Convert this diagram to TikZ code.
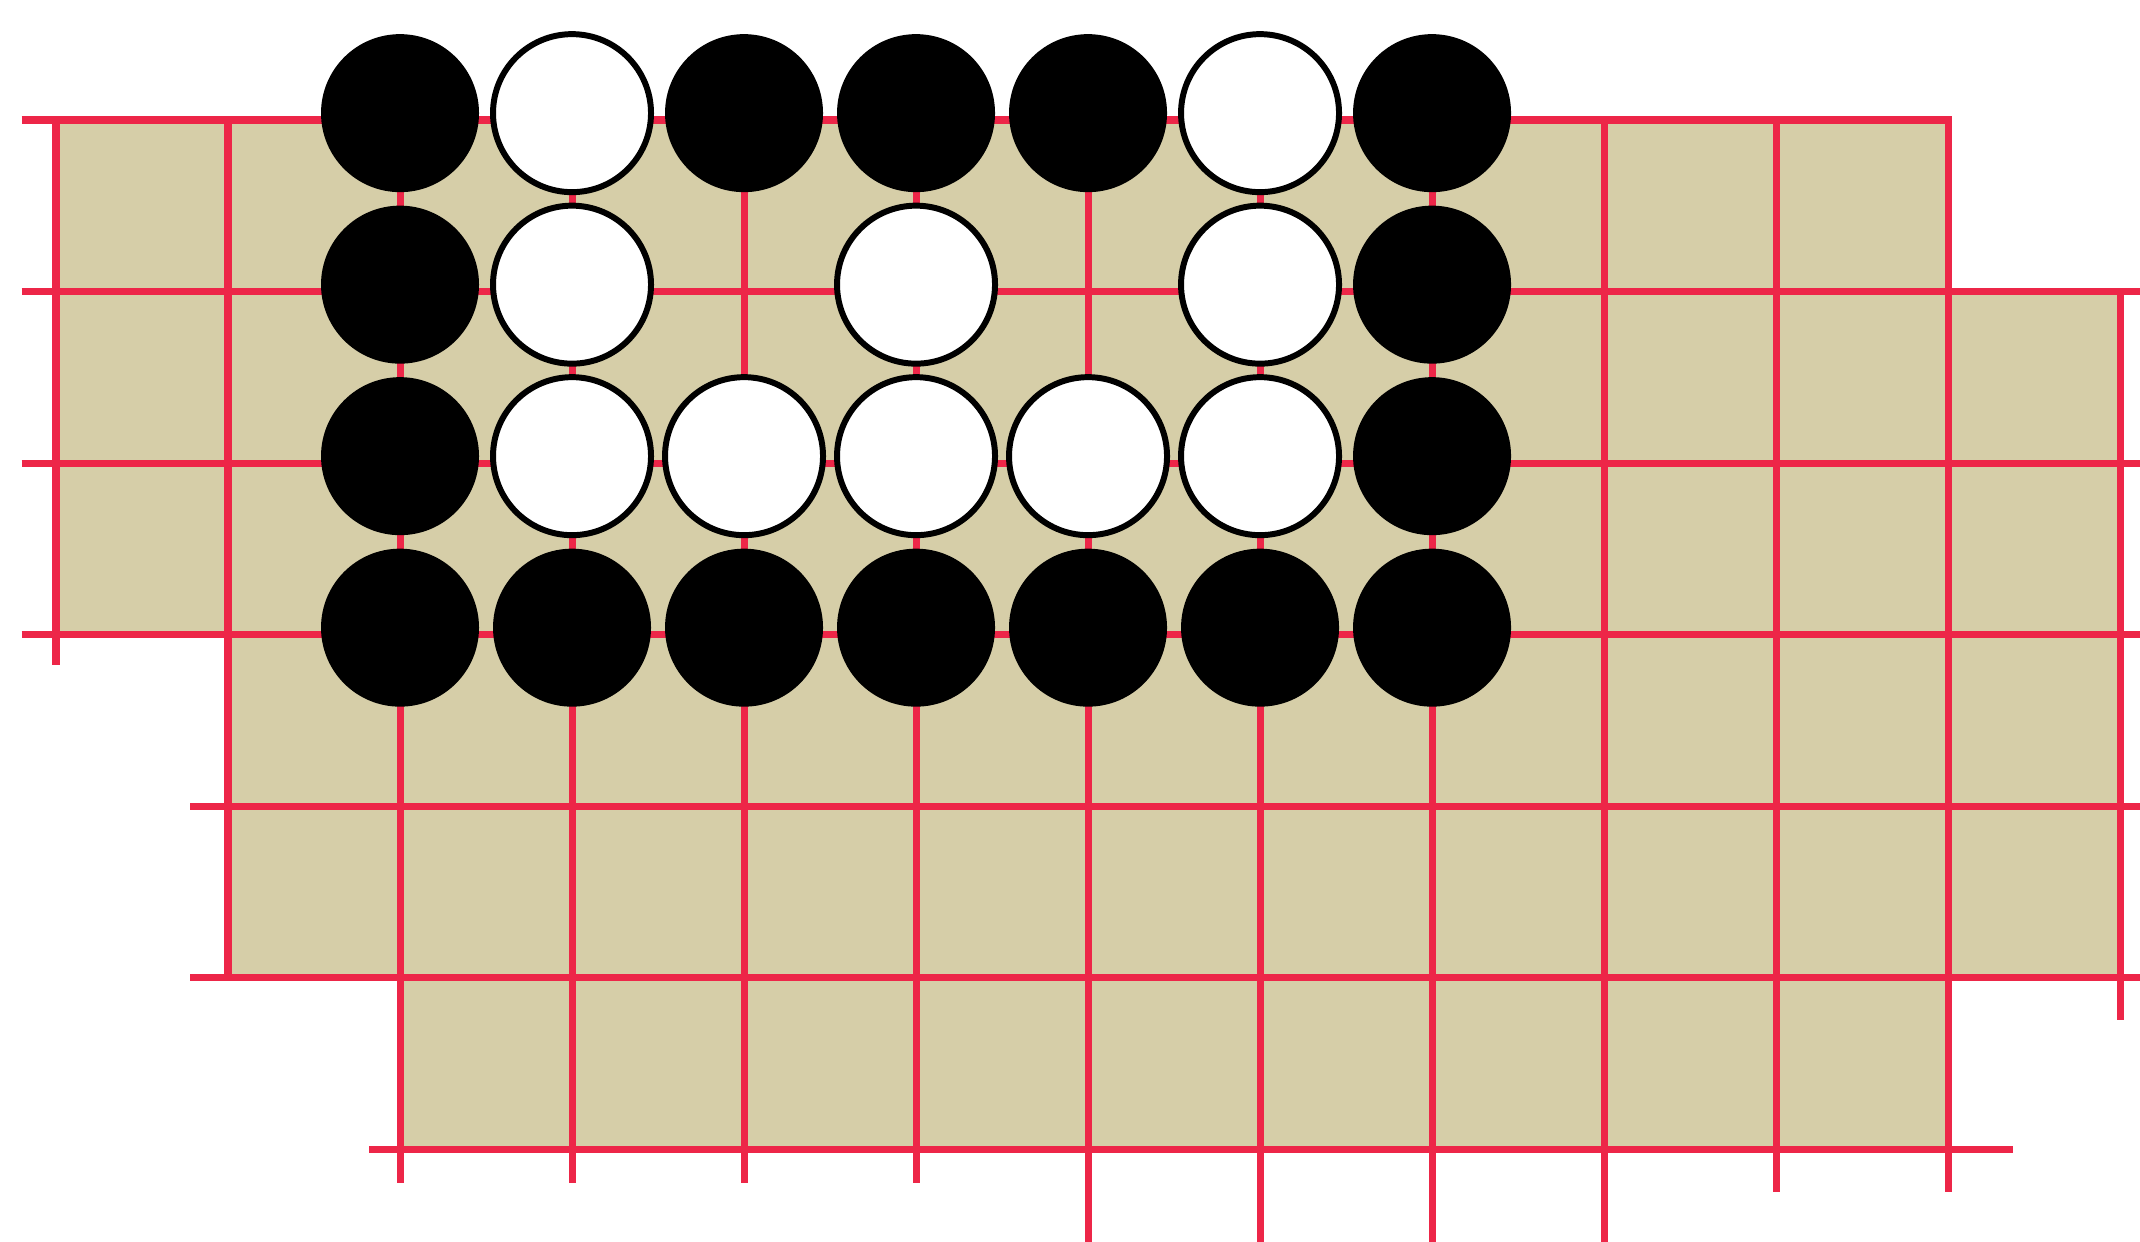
\documentclass[tikz,border=0pt]{standalone}
\usetikzlibrary{positioning}
\definecolor{boardtan}{RGB}{214,206,168}
\definecolor{gridred}{RGB}{237,38,72}

\begin{document}
\begin{tikzpicture}[
  x=1.72cm,y=-1.715cm,
  grid/.style={draw=gridred,line width=2pt},
  stone/.style={circle,minimum size=1.58cm,inner sep=0pt},
  bstone/.style={stone,fill=black},
  wstone/.style={stone,fill=white,draw=black,line width=1.7pt}
]
\useasboundingbox (-0.3256,-0.6997) rectangle (12.116,6.542);

% board
\fill[boardtan] (0,0) -- (11,0) -- (11,1) -- (12,1) -- (12,5) -- (11,5)
  -- (11,6) -- (2,6) -- (2,5) -- (1,5) -- (1,3) -- (0,3) -- cycle;

% lines
\draw[grid] (-0.2,0) -- (11,0) -- (11,6.25);
\foreach \r in {1,2,3} \draw[grid] (-0.2,\r) -- (12.2,\r);
\foreach \r in {4,5} \draw[grid] (0.78,\r) -- (12.2,\r);
\draw[grid] (1.82,6) -- (11.38,6);
\draw[grid] (0,0) -- (0,3.18);
\draw[grid] (1,0) -- (1,5);
\foreach \c in {2,...,5} \draw[grid] (\c,0) -- (\c,6.2);
\foreach \c in {6,...,9} \draw[grid] (\c,0) -- (\c,6.6);
\draw[grid] (10,0) -- (10,6.25);
\draw[grid] (12,1) -- (12,5.25);

% stones
\foreach \c/\r in {2/0,4/0,5/0,6/0,8/0,2/1,8/1,2/2,8/2,
                   2/3,3/3,4/3,5/3,6/3,7/3,8/3}
  \node[bstone] (b-\c-\r) at (\c,\r-0.04) {};
\foreach \c/\r in {3/0,7/0,3/1,5/1,7/1,3/2,4/2,5/2,6/2,7/2}
  \node[wstone] (w-\c-\r) at (\c,\r-0.04) {};
\end{tikzpicture}
\end{document}
